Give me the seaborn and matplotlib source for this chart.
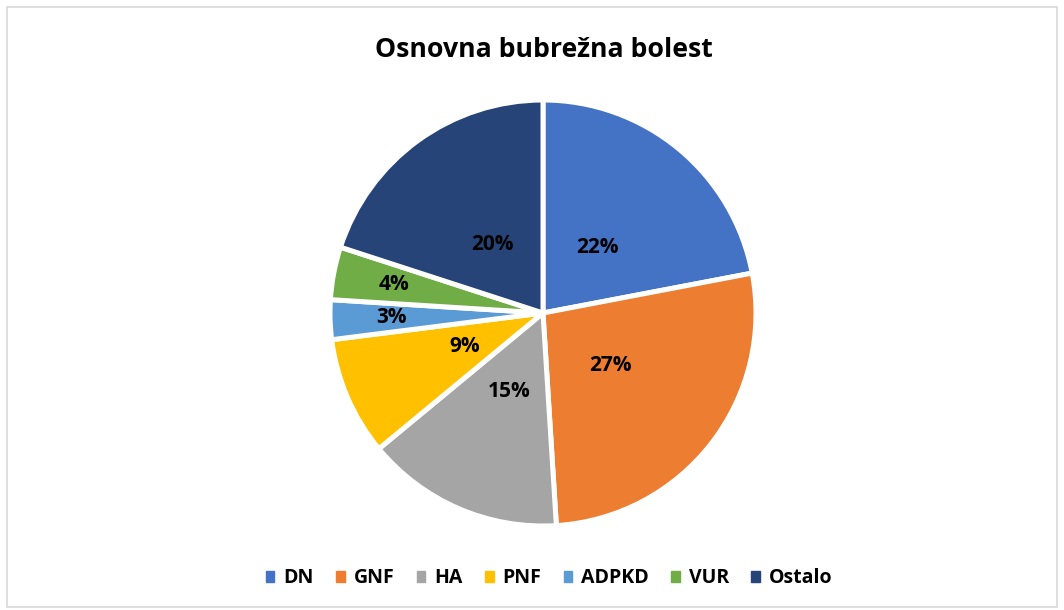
import numpy as np
import seaborn as sns
import matplotlib.pyplot as plt
from matplotlib.patches import Rectangle

# data
categories = ['DN', 'GNF', 'HA', 'PNF', 'ADPKD', 'VUR', 'Ostalo']
shares = [22, 27, 15, 9, 3, 4, 20]
colors = ['#4472C4', '#ED7D31', '#A5A5A5', '#FFC000', '#5B9BD5', '#70AD47', '#264478']

sns.set_theme(style='white')
plt.rcParams['font.family'] = ['Open Sans', 'DejaVu Sans']
plt.rcParams['text.color'] = 'black'
palette = sns.color_palette(colors)

fig = plt.figure(figsize=(10.64, 6.10), dpi=100)
fig.patches.append(Rectangle((7 / 1064, 3 / 610), 1 - 14 / 1064, 1 - 10 / 610,
                             transform=fig.transFigure, fill=False,
                             edgecolor='#D9D9D9', linewidth=1.2))

ax = fig.add_axes([(543 - 213) / 1064, (610 - 313 - 213) / 610, 426 / 1064, 426 / 610])
wedges, texts, autotexts = ax.pie(
    shares, colors=palette, startangle=90, counterclock=False,
    autopct='%1.0f%%', pctdistance=0.4,
    wedgeprops=dict(edgecolor='white', linewidth=3.6),
    textprops=dict(fontsize=15, fontweight='bold', color='black'))

# small slices: labels further out, like Excel does
for w, t, v in zip(wedges, autotexts, shares):
    if v < 5:
        ang = np.deg2rad((w.theta1 + w.theta2) / 2)
        t.set_position((0.71 * np.cos(ang), 0.71 * np.sin(ang)))

ax.set_xlim(-1, 1)
ax.set_ylim(-1, 1)
ax.set_aspect('equal')

fig.text(0.511, 0.918, 'Osnovna bubrežna bolest', ha='center', va='center',
         fontsize=19.2, fontweight='bold')

handles = [Rectangle((0, 0), 1, 1, color=c) for c in palette]
fig.legend(handles, categories, loc='center', bbox_to_anchor=(0.516, 0.052),
           ncol=7, frameon=False, handlelength=0.45, handleheight=0.45,
           handletextpad=0.45, columnspacing=1.15,
           prop=dict(size=14, weight='bold'))

fig.savefig('out.png', dpi=100)
